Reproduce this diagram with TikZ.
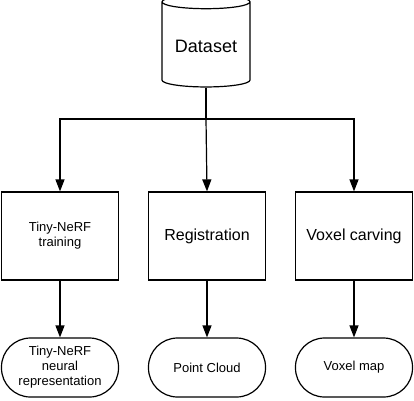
\documentclass[tikz,border=0pt]{standalone}
\usepackage{fontspec}
\setmainfont{Liberation Sans}
\usetikzlibrary{shapes.geometric,arrows.meta}
\tikzset{
    stepbox/.style={draw, line width=1.2pt, minimum width=117pt, minimum height=88pt,
        align=center, inner sep=2pt},
    resultbox/.style={draw, line width=1.2pt, rounded corners=29pt, minimum width=117pt,
        minimum height=59pt, align=center, font=\fontsize{13}{15}\selectfont},
    flow/.style={line width=1.2pt, -{Triangle[width=9pt,length=12pt]}}
}

\begin{document}
\begin{tikzpicture}[x=1pt, y=-1pt]
    \useasboundingbox (0,0) rectangle (414,400);
    % source
    \node[cylinder, shape border rotate=90, draw, line width=1.2pt, aspect=0.2,
        minimum width=88pt, minimum height=92pt, font=\fontsize{18}{22}\selectfont]
        (data) at (206,46) {Dataset};
    \coordinate (split) at (206,119);
    % processing
    \node[stepbox, font=\fontsize{13}{15}\selectfont] (nerf) at (60,236) {Tiny-NeRF\\training};
    \node[stepbox, font=\fontsize{16}{19}\selectfont] (reg) at (207,236) {Registration};
    \node[stepbox, font=\fontsize{16}{19}\selectfont] (carve) at (354,236) {Voxel carving};
    % outputs
    \node[resultbox] (nerfout) at (60,367.5) {Tiny-NeRF\\neural\\representation};
    \node[resultbox] (cloud) at (207,367.5) {Point Cloud};
    \node[resultbox] (vmap) at (354,367.5) {Voxel map};
    % connectors
    \draw[line width=1.2pt] (data.south) -- (split);
    \draw[flow] (split) -| (nerf.north);
    \draw[flow] (split) -| (carve.north);
    \draw[flow] (split) -- (reg.north);
    \draw[flow] (nerf) -- (nerfout);
    \draw[flow] (reg) -- (cloud);
    \draw[flow] (carve) -- (vmap);
\end{tikzpicture}
\end{document}
